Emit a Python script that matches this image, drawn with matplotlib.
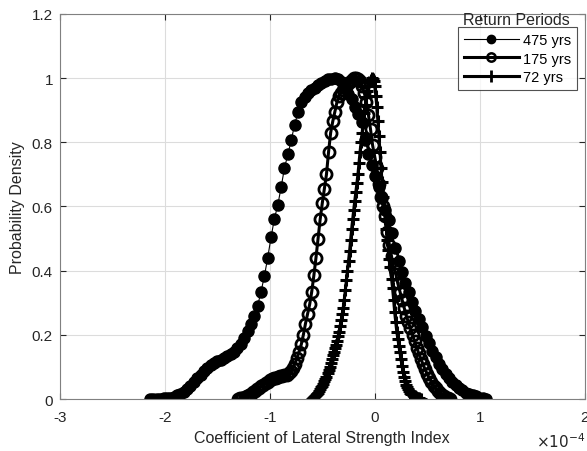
import numpy as np
import matplotlib
matplotlib.use("Agg")
import matplotlib.pyplot as plt
from matplotlib.lines import Line2D

plt.rcParams['font.family'] = ['Liberation Sans', 'DejaVu Sans']

# density curves, x in units of 1e-4
y_475 = [0.000, 0.0005, 0.001, 0.0015, 0.002, 0.003, 0.004, 0.007, 0.011, 0.015,
         0.022, 0.030, 0.041, 0.053, 0.065, 0.076, 0.087, 0.096, 0.105, 0.112,
         0.117, 0.122, 0.128, 0.133, 0.139, 0.148, 0.160, 0.173, 0.190, 0.211,
         0.235, 0.259, 0.290, 0.334, 0.382, 0.440, 0.504, 0.562, 0.604, 0.660,
         0.720, 0.762, 0.806, 0.854, 0.893, 0.925, 0.941, 0.954, 0.963, 0.970,
         0.977, 0.986, 0.992, 0.996, 0.998, 1.000, 0.998, 0.987, 0.968, 0.951,
         0.935, 0.911, 0.888, 0.862, 0.806, 0.765, 0.728, 0.696, 0.660, 0.625,
         0.590, 0.558, 0.518, 0.470, 0.431, 0.396, 0.363, 0.333, 0.303, 0.274,
         0.250, 0.223, 0.197, 0.174, 0.151, 0.130, 0.110, 0.093, 0.079, 0.065,
         0.053, 0.043, 0.035, 0.027, 0.020, 0.015, 0.011, 0.008, 0.004, 0.002,
         0.000]
x_475 = np.linspace(-2.14, 1.06, len(y_475))

y_175 = [0.000, 0.002, 0.004, 0.007, 0.009, 0.012, 0.016, 0.021, 0.025, 0.030,
         0.035, 0.040, 0.045, 0.049, 0.054, 0.058, 0.061, 0.064, 0.067, 0.069,
         0.071, 0.072, 0.074, 0.076, 0.080, 0.086, 0.096, 0.110, 0.128, 0.148,
         0.170, 0.200, 0.235, 0.265, 0.295, 0.335, 0.385, 0.440, 0.500, 0.560,
         0.610, 0.655, 0.700, 0.770, 0.830, 0.865, 0.895, 0.925, 0.945, 0.955,
         0.963, 0.972, 0.980, 0.988, 0.995, 1.000, 1.000, 0.998, 0.990, 0.975,
         0.955, 0.925, 0.885, 0.840, 0.790, 0.755, 0.720, 0.670, 0.630, 0.600,
         0.570, 0.520, 0.480, 0.445, 0.410, 0.390, 0.360, 0.335, 0.310, 0.285,
         0.260, 0.240, 0.220, 0.200, 0.180, 0.160, 0.142, 0.125, 0.108, 0.092,
         0.078, 0.065, 0.053, 0.042, 0.033, 0.025, 0.018, 0.012, 0.008, 0.004,
         0.002, 0.000]
x_175 = np.linspace(-1.30, 0.72, len(y_175))

y_72 = [0.000, 0.002, 0.005, 0.008, 0.012, 0.016, 0.020, 0.025, 0.030, 0.036,
        0.042, 0.048, 0.055, 0.062, 0.070, 0.080, 0.090, 0.101, 0.113, 0.125,
        0.136, 0.147, 0.158, 0.169, 0.180, 0.195, 0.210, 0.228, 0.245, 0.265,
        0.285, 0.310, 0.340, 0.370, 0.400, 0.430, 0.460, 0.495, 0.530, 0.560,
        0.590, 0.618, 0.645, 0.672, 0.700, 0.735, 0.770, 0.800, 0.830, 0.860,
        0.890, 0.915, 0.940, 0.960, 0.975, 0.987, 0.995, 1.000, 0.998, 0.990,
        0.975, 0.945, 0.910, 0.865, 0.820, 0.770, 0.720, 0.675, 0.630, 0.595,
        0.560, 0.530, 0.495, 0.465, 0.435, 0.410, 0.375, 0.345, 0.310, 0.270,
        0.240, 0.210, 0.188, 0.166, 0.145, 0.124, 0.103, 0.083, 0.068, 0.056,
        0.045, 0.037, 0.030, 0.025, 0.020, 0.016, 0.013, 0.010, 0.008, 0.006,
        0.004, 0.003, 0.002, 0.001, 0.000]
x_72 = np.linspace(-0.60, 0.44, len(y_72))

labels = ['475 yrs', '175 yrs', '72 yrs']
xticks = [-3, -2, -1, 0, 1, 2]
yticks = [0, 0.2, 0.4, 0.6, 0.8, 1.0, 1.2]
ytick_labels = ['0', '0.2', '0.4', '0.6', '0.8', '1', '1.2']

fig = plt.figure(figsize=(5.87, 4.52), dpi=100)
ax = fig.add_axes([0.102, 0.115, 0.894, 0.852])

ax.plot(x_475, y_475, '-', color='k', lw=0.8, marker='o', ms=8,
        mfc='k', mec='k', label=labels[0])
ax.plot(x_175, y_175, '-', color='k', lw=2.2, marker='o', ms=8,
        mfc='none', mec='k', mew=2.0, label=labels[1])
ax.plot(x_72, y_72, '-', color='k', lw=2.2, marker='+', ms=9,
        mec='k', mew=2.2, label=labels[2])

ax.set_xlim(-3, 2)
ax.set_ylim(0, 1.2)
ax.set_xticks(xticks)
ax.set_xticklabels([str(t) for t in xticks])
ax.set_yticks(yticks)
ax.set_yticklabels(ytick_labels)
ax.grid(True, color='#dcdcdc', lw=0.8)
ax.set_axisbelow(True)
ax.tick_params(direction='in', length=4, colors='#262626', labelsize=11,
               top=True, right=True, labeltop=False, labelright=False)
ax.tick_params(axis='x', pad=8)
ax.tick_params(axis='y', pad=5)
for s in ax.spines.values():
    s.set_color('#808080')
    s.set_linewidth(0.8)

ax.set_xlabel('Coefficient of Lateral Strength Index', fontsize=11.5,
              color='#262626', labelpad=4)
ax.set_ylabel('Probability Density', fontsize=11.5, color='#262626', labelpad=5)
fig.text(0.997, 0.024, r'$\times10^{-4}$', fontsize=11, color='#262626',
         ha='right', va='center')

handles = [
    Line2D([], [], color='k', lw=0.8, marker='o', ms=6, mfc='k'),
    Line2D([], [], color='k', lw=2.2, marker='o', ms=6, mfc='none', mew=1.8),
    Line2D([], [], color='k', lw=2.2, marker='+', ms=8, mew=2.0),
]
leg = ax.legend(handles, labels, loc='upper right', bbox_to_anchor=(0.986, 0.965),
                fontsize=10.5, frameon=True, fancybox=False, handlelength=3.8,
                handletextpad=0.3, borderpad=0.4, labelspacing=0.3,
                borderaxespad=0)
leg.get_frame().set_edgecolor('#262626')
leg.get_frame().set_linewidth(0.8)
ax.text(0.87, 0.985, 'Return Periods', transform=ax.transAxes, ha='center',
        va='center', fontsize=11.5, color='#262626')

fig.savefig('out.png', dpi=100)
